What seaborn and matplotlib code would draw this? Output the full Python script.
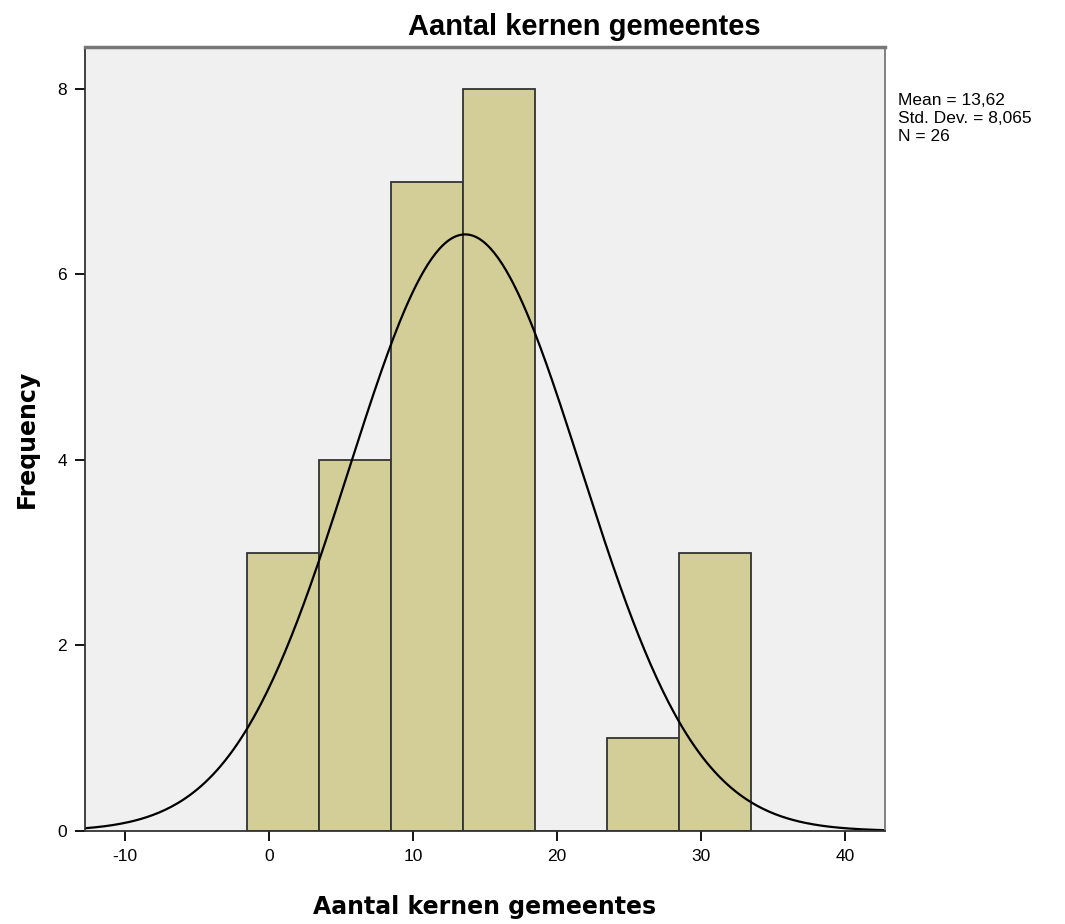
import numpy as np
import pandas as pd
import matplotlib
matplotlib.use('Agg')
import matplotlib.pyplot as plt
import seaborn as sns

# histogram bins (class midpoints, width 5) and frequencies
bin_mids = [1, 6, 11, 16, 21, 26, 31]
counts = [3, 4, 7, 8, 0, 1, 3]
bin_edges = [-1.5, 3.5, 8.5, 13.5, 18.5, 23.5, 28.5, 33.5]

# summary stats as printed on the chart
mean = 13.62
std_dev = 8.065
n = 26

x_ticks = [-10, 0, 10, 20, 30, 40]
y_ticks = [0, 2, 4, 6, 8]

sns.set_style('white')
plt.rcParams['font.family'] = ['Liberation Sans', 'DejaVu Sans']
plt.rcParams['axes.unicode_minus'] = False
plt.rcParams['text.color'] = 'black'
plt.rcParams['axes.labelcolor'] = 'black'

fig = plt.figure(figsize=(10.65, 9.24), dpi=100)
ax = fig.add_axes([0.0798, 0.1006, 0.7512, 0.8485])
ax.set_facecolor('#f0f0f0')

df = pd.DataFrame({'value': bin_mids, 'freq': counts})
sns.histplot(data=df, x='value', weights='freq', bins=bin_edges, ax=ax,
             color='#d3ce97', alpha=1, edgecolor='#333333', linewidth=1.3)

# fitted normal curve, scaled to frequency
binw = bin_edges[1] - bin_edges[0]
xs = np.linspace(-12.8, 42.8, 400)
ys = n * binw * np.exp(-0.5 * ((xs - mean) / std_dev) ** 2) / (std_dev * np.sqrt(2 * np.pi))
sns.lineplot(x=xs, y=ys, ax=ax, color='black', linewidth=1.6)

ax.set_xlim(-12.78, 42.78)
ax.set_ylim(0, 8.45)
ax.set_xticks(x_ticks)
ax.set_yticks(y_ticks)
ax.tick_params(direction='out', length=7, width=1.3, colors='black',
               labelsize=12.5, bottom=True, left=True, pad=6)
for s in ax.spines.values():
    s.set_color('#333333')
    s.set_linewidth(1.3)
ax.spines['top'].set_color('#777777')
ax.spines['top'].set_linewidth(2.5)
ax.spines['right'].set_color('#777777')

fig.text(0.549, 0.971, 'Aantal kernen gemeentes', fontsize=21, fontweight='bold',
         ha='center', va='center')
ax.set_xlabel('Aantal kernen gemeentes', fontsize=17, fontweight='bold',
              family=['DejaVu Sans'], labelpad=22)
ax.set_ylabel('Frequency', fontsize=17, fontweight='bold',
              family=['DejaVu Sans'], labelpad=13)

fig.text(0.843, 0.899, 'Mean = 13,62\nStd. Dev. = 8,065\nN = 26',
         fontsize=12.5, va='top', ha='left', linespacing=1.25)

fig.savefig('out.png', dpi=100, facecolor='white')
